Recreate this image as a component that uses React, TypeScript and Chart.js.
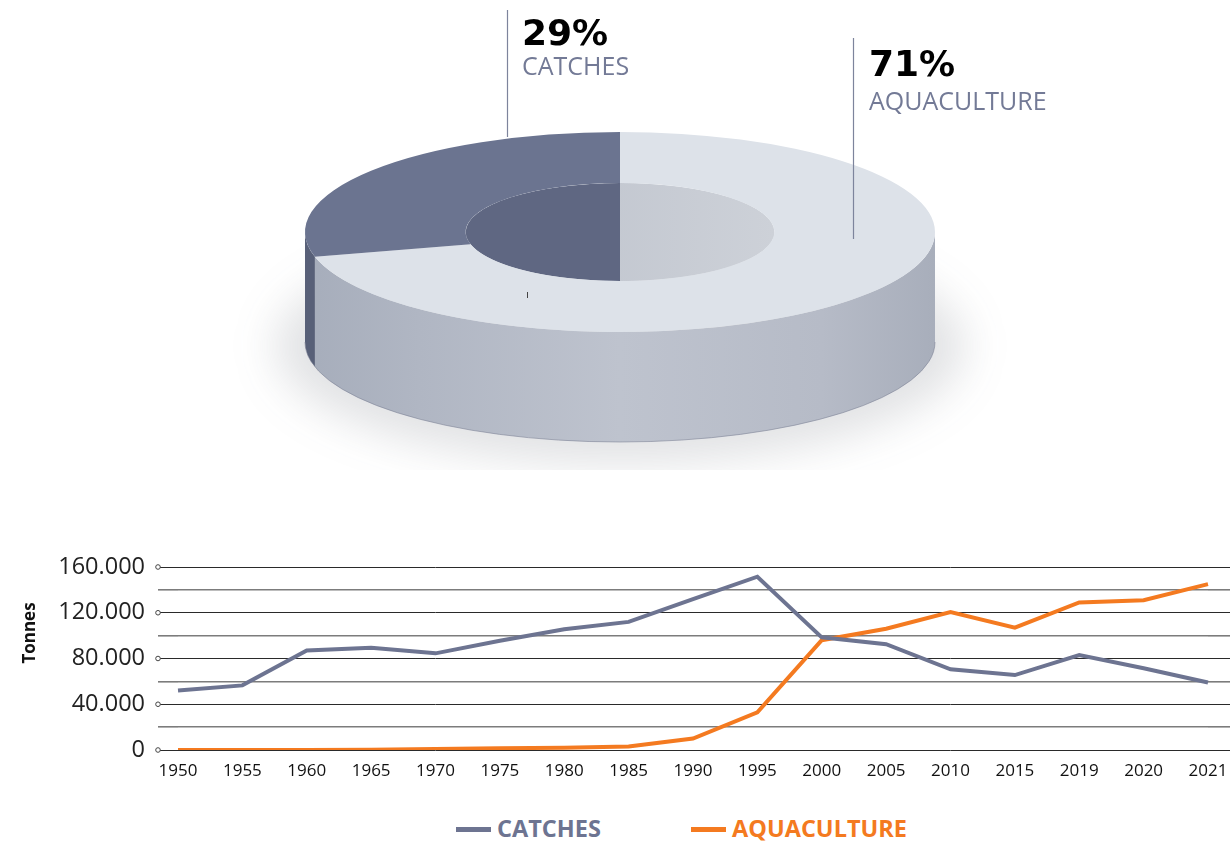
import React, { useEffect, useRef } from 'react';
import { Chart, registerables } from 'chart.js';

Chart.register(...registerables);

// ---------- data ----------
const YEARS = ['1950', '1955', '1960', '1965', '1970', '1975', '1980', '1985', '1990', '1995', '2000', '2005', '2010', '2015', '2019', '2020', '2021'];
const CATCHES = [52000, 56500, 87000, 89500, 84500, 95500, 105500, 112000, 132000, 151500, 98500, 92500, 70500, 65500, 83000, 71500, 59000];
const AQUACULTURE = [0, 0, 0, 300, 800, 1500, 2000, 3000, 10000, 33000, 96000, 106000, 120500, 107000, 129000, 131000, 145000];
const Y_MIN = 0;
const Y_MAX = 160000;
const Y_STEP = 20000;
const Y_LABEL_STEP = 40000;

const SHARE_LABELS = ['AQUACULTURE', 'CATCHES'];
const SHARE_VALUES = [71, 29];

// ---------- styles ----------
const GRAY = '#6D7491';
const ORANGE = '#F47A20';
const TOP_COLORS = ['#DDE2E9', '#6B7490'];
const INNER_COLORS = ['#C4C9D2', '#5F6782'];
const WALL_DARK = ['', '#586078'];
const FONT = '"Open Sans", sans-serif';

const K = 100 / 315; // vertical squash of the top face
const TOP_CY = 232; // centre of the top face on the page
const DEPTH = 110; // wall height

function fmt(v: number): string {
  return String(v).replace(/\B(?=(\d{3})+(?!\d))/g, '.');
}

function overlap(s: number, e: number, a: number, b: number): [number, number] | null {
  const lo = Math.max(s, a);
  const hi = Math.min(e, b);
  return hi > lo ? [lo, hi] : null;
}

const pie3d = {
  id: 'pie3d',
  beforeDatasetsDraw(chart: any) {
    const arcs = chart.getDatasetMeta(0).data as any[];
    if (!arcs.length) return;
    const ctx: CanvasRenderingContext2D = chart.ctx;
    const a0 = arcs[0];
    const cx = a0.x;
    const cy = a0.y;
    const R = a0.outerRadius;
    const r = a0.innerRadius;
    const ry = R * K;
    const rry = r * K;

    // soft ground shadow
    ctx.save();
    ctx.filter = 'blur(22px)';
    ctx.fillStyle = 'rgba(70,74,90,0.16)';
    ctx.beginPath();
    ctx.ellipse(cx, TOP_CY + DEPTH + 4, R + 30, ry + 18, 0, 0, Math.PI * 2);
    ctx.fill();
    ctx.restore();

    // outer wall (front half)
    const wall = (s: number, e: number) => {
      ctx.beginPath();
      ctx.ellipse(cx, TOP_CY + DEPTH, R, ry, 0, s, e, false);
      ctx.ellipse(cx, TOP_CY, R, ry, 0, e, s, true);
      ctx.closePath();
    };
    const g = ctx.createLinearGradient(cx - R, 0, cx + R, 0);
    g.addColorStop(0, '#A6ADBB');
    g.addColorStop(0.18, '#B0B6C3');
    g.addColorStop(0.5, '#BEC3CE');
    g.addColorStop(0.82, '#B6BBC7');
    g.addColorStop(1, '#A8AEBB');
    arcs.forEach((arc: any, i: number) => {
      const seg = overlap(arc.startAngle, arc.endAngle, 0, Math.PI);
      if (!seg) return;
      wall(seg[0], seg[1]);
      ctx.fillStyle = WALL_DARK[i] ? WALL_DARK[i] : g;
      ctx.fill();
    });
    // bottom rim line
    ctx.save();
    ctx.strokeStyle = 'rgba(120,126,145,0.55)';
    ctx.lineWidth = 1;
    ctx.beginPath();
    ctx.ellipse(cx, TOP_CY + DEPTH, R, ry, 0, 0, Math.PI, false);
    ctx.stroke();
    ctx.restore();

    // inner hole: back half of the inner wall
    ctx.save();
    ctx.beginPath();
    ctx.ellipse(cx, TOP_CY, r, rry, 0, 0, Math.PI * 2);
    ctx.clip();
    const gi = ctx.createLinearGradient(cx - r, 0, cx + r, 0);
    gi.addColorStop(0, '#BCC1CB');
    gi.addColorStop(1, '#CDD1D8');
    ctx.fillStyle = gi;
    ctx.fillRect(cx - r - 2, TOP_CY - rry - 2, 2 * r + 4, 2 * rry + 4);
    arcs.forEach((arc: any, i: number) => {
      const ranges = [overlap(arc.startAngle, arc.endAngle, -Math.PI / 2, 0), overlap(arc.startAngle, arc.endAngle, Math.PI, 1.5 * Math.PI)];
      ranges.forEach((seg) => {
        if (!seg) return;
        ctx.beginPath();
        ctx.ellipse(cx, TOP_CY, r, rry, 0, seg[0], seg[1], false);
        ctx.ellipse(cx, TOP_CY + DEPTH, r, rry, 0, seg[1], seg[0], true);
        ctx.closePath();
        ctx.fillStyle = i === 0 ? gi : INNER_COLORS[i];
        ctx.fill();
      });
    });
    ctx.restore();

    // squash the library's arcs into the top face
    ctx.save();
    ctx.translate(cx, TOP_CY);
    ctx.scale(1, K);
    ctx.translate(-cx, -cy);
  },
  afterDatasetsDraw(chart: any) {
    chart.ctx.restore();
  },
  afterDraw(chart: any) {
    const ctx: CanvasRenderingContext2D = chart.ctx;
    const total = SHARE_VALUES.reduce((a, b) => a + b, 0);
    ctx.save();
    ctx.strokeStyle = '#7D849C';
    ctx.lineWidth = 1.2;
    ctx.beginPath();
    ctx.moveTo(507.5, 10);
    ctx.lineTo(507.5, 137);
    ctx.moveTo(853.5, 38);
    ctx.lineTo(853.5, 239);
    ctx.stroke();
    ctx.strokeStyle = '#444';
    ctx.lineWidth = 1;
    ctx.beginPath();
    ctx.moveTo(527.5, 292);
    ctx.lineTo(527.5, 298);
    ctx.stroke();

    const pct = (i: number) => Math.round((SHARE_VALUES[i] / total) * 100) + '%';
    ctx.textAlign = 'left';
    ctx.textBaseline = 'alphabetic';
    ctx.fillStyle = '#000';
    ctx.font = 'bold 36px "DejaVu Sans", sans-serif';
    ctx.fillText(pct(1), 522, 45);
    ctx.fillText(pct(0), 869, 76);
    ctx.fillStyle = '#737A96';
    ctx.font = '25px ' + FONT;
    ctx.fillText(SHARE_LABELS[1], 522, 75);
    ctx.fillText(SHARE_LABELS[0], 869, 110);
    ctx.restore();
  },
};

const lineDecor = {
  id: 'lineDecor',
  afterDraw(chart: any) {
    const ctx: CanvasRenderingContext2D = chart.ctx;
    const y = chart.scales.y;
    const x0 = chart.chartArea.left - 20;
    ctx.save();
    for (let v = Y_MIN; v <= Y_MAX; v += Y_LABEL_STEP) {
      const py = y.getPixelForValue(v);
      ctx.beginPath();
      ctx.arc(x0, py, 2.3, 0, Math.PI * 2);
      ctx.fillStyle = '#fff';
      ctx.fill();
      ctx.strokeStyle = '#444';
      ctx.lineWidth = 1;
      ctx.stroke();
    }
    ctx.translate(30, 93);
    ctx.rotate(-Math.PI / 2);
    ctx.textAlign = 'center';
    ctx.textBaseline = 'middle';
    ctx.fillStyle = '#111';
    ctx.font = 'bold 17px ' + FONT;
    ctx.fillText('Tonnes', 0, 0);
    ctx.restore();
  },
};

const isMajor = (c: any) => c.tick && Math.round(c.tick.value) % Y_LABEL_STEP === 0;
const gridColor = (c: any) => (isMajor(c) ? '#2A2A2A' : '#7C7C7C');
const gridWidth = (c: any) => (isMajor(c) ? 1 : 1.6);

export default function App() {
  const pieRef = useRef<HTMLCanvasElement>(null);
  const lineRef = useRef<HTMLCanvasElement>(null);

  useEffect(() => {
    Chart.defaults.font.family = FONT;
    const pie = new Chart(pieRef.current as HTMLCanvasElement, {
      type: 'doughnut',
      data: {
        labels: SHARE_LABELS,
        datasets: [
          {
            data: SHARE_VALUES,
            backgroundColor: TOP_COLORS,
            borderWidth: 0,
            hoverOffset: 0,
          },
        ],
      },
      options: {
        responsive: false,
        animation: false,
        events: [],
        radius: 315,
        cutout: '49%',
        layout: { padding: { left: 10 } },
        plugins: { legend: { display: false }, tooltip: { enabled: false } },
      } as any,
      plugins: [pie3d],
    });

    const line = new Chart(lineRef.current as HTMLCanvasElement, {
      type: 'line',
      data: {
        labels: YEARS,
        datasets: [
          {
            label: 'CATCHES',
            data: CATCHES,
            borderColor: GRAY,
            backgroundColor: GRAY,
            borderWidth: 4,
            pointRadius: 0,
            tension: 0,
            fill: false,
          },
          {
            label: 'AQUACULTURE',
            data: AQUACULTURE,
            borderColor: ORANGE,
            backgroundColor: ORANGE,
            borderWidth: 4,
            pointRadius: 0,
            tension: 0,
            fill: false,
          },
        ],
      },
      options: {
        responsive: false,
        animation: false,
        events: [],
        layout: { padding: { top: 27, left: 0, right: 0, bottom: 0 } },
        plugins: { legend: { display: false }, tooltip: { enabled: false } },
        scales: {
          x: {
            type: 'category',
            offset: false,
            grid: { display: false, drawTicks: false },
            border: { display: false },
            ticks: { color: '#111', font: { size: 17 }, padding: 11, maxRotation: 0, autoSkip: false },
            afterFit: (s: any) => {
              s.height = 40;
              s.paddingLeft = 0;
              s.paddingRight = 0;
            },
          },
          y: {
            position: 'left',
            min: Y_MIN,
            max: Y_MAX,
            ticks: {
              stepSize: Y_STEP,
              autoSkip: false,
              padding: 13,
              color: '#222',
              font: { size: 23.5 },
              callback: (v: any) => (Math.round(Number(v)) % Y_LABEL_STEP === 0 ? fmt(Number(v)) : ''),
            },
            grid: { color: gridColor, lineWidth: gridWidth, tickLength: 20, drawTicks: true },
            border: { display: false },
            afterFit: (s: any) => {
              s.width = 178;
              s.paddingTop = 0;
              s.paddingBottom = 0;
            },
          },
          y2: {
            position: 'right',
            min: Y_MIN,
            max: Y_MAX,
            ticks: { stepSize: Y_STEP, autoSkip: false, display: false },
            grid: { drawOnChartArea: false, drawTicks: true, tickLength: 22, color: gridColor, lineWidth: gridWidth },
            border: { display: false },
            afterFit: (s: any) => {
              s.width = 22;
              s.paddingTop = 0;
              s.paddingBottom = 0;
            },
          },
        },
      } as any,
      plugins: [lineDecor],
    });

    return () => {
      pie.destroy();
      line.destroy();
    };
  }, []);

  const legendItem = (left: number, color: string, text: string) => (
    <div
      style={{
        position: 'absolute',
        left,
        top: 814,
        height: 28,
        display: 'flex',
        alignItems: 'center',
        whiteSpace: 'nowrap',
      }}
    >
      <div style={{ width: 35, height: 5, background: color, marginRight: 6, marginTop: 2 }} />
      <span style={{ font: `bold 23.5px ${FONT}`, lineHeight: '28px', color }}>{text}</span>
    </div>
  );

  return (
    <div
      style={{
        position: 'absolute',
        left: 0,
        top: 0,
        width: 1230,
        height: 841,
        background: '#fff',
        overflow: 'hidden',
      }}
    >
      <canvas ref={pieRef} width={1230} height={470} style={{ position: 'absolute', left: 0, top: 0, width: 1230, height: 470, display: 'block' }} />
      <canvas ref={lineRef} width={1230} height={250} style={{ position: 'absolute', left: 0, top: 540, width: 1230, height: 250, display: 'block' }} />
      {legendItem(456, GRAY, 'CATCHES')}
      {legendItem(691, ORANGE, 'AQUACULTURE')}
    </div>
  );
}
